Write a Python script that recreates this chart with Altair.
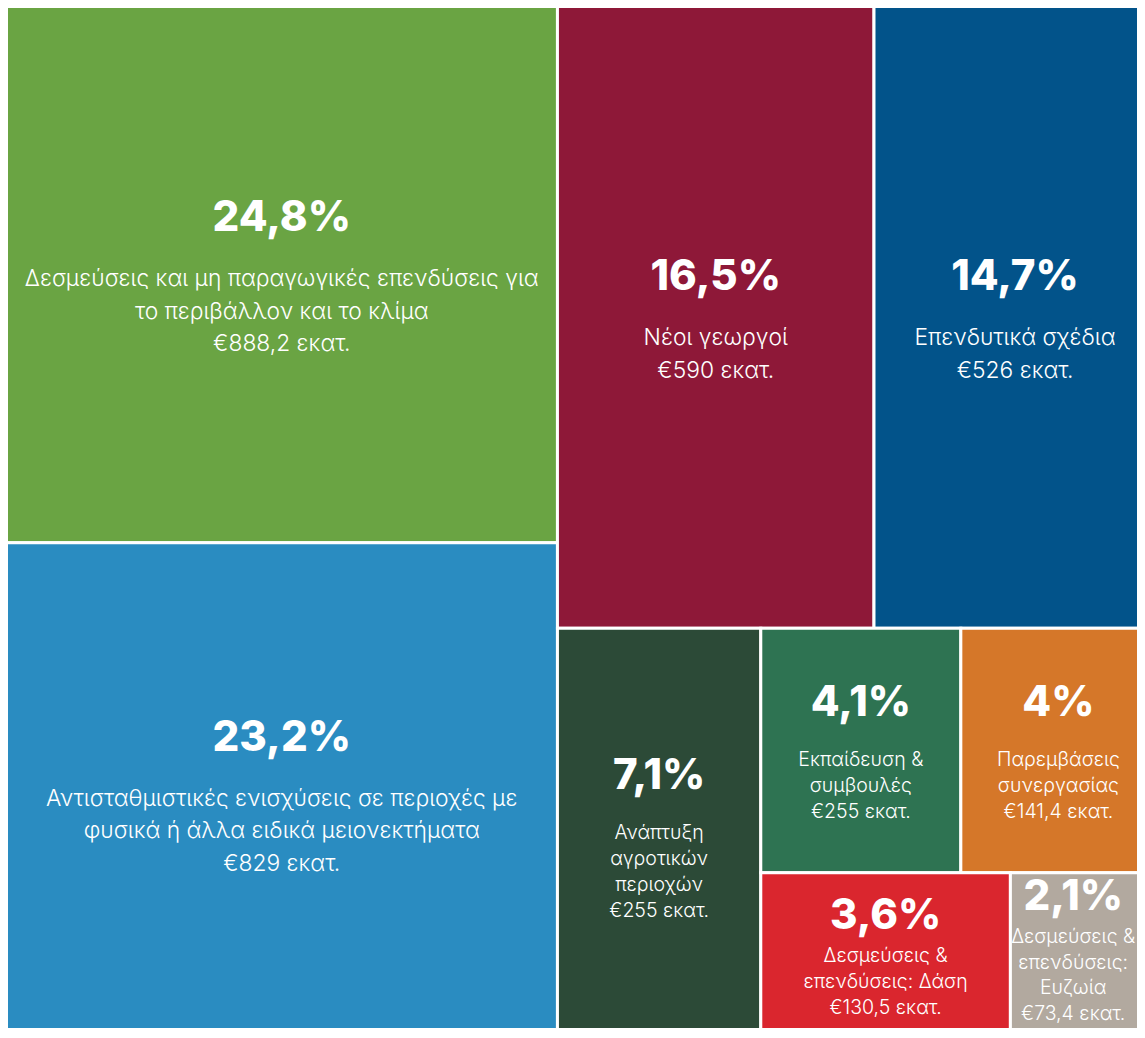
import altair as alt
import pandas as pd

# ---- data ----
keys = ["A", "B", "C", "D", "E", "F", "G", "H", "I"]
shares = [24.8, 23.2, 16.5, 14.7, 7.1, 4.1, 4.0, 3.6, 2.1]
amounts = [888.2, 829, 590, 526, 255, 255, 141.4, 130.5, 73.4]
desc_lines = [
    ["Δεσμεύσεις και μη παραγωγικές επενδύσεις για", "το περιβάλλον και το κλίμα"],
    ["Αντισταθμιστικές ενισχύσεις σε περιοχές με", "φυσικά ή άλλα ειδικά μειονεκτήματα"],
    ["Νέοι γεωργοί"],
    ["Επενδυτικά σχέδια"],
    ["Ανάπτυξη", "αγροτικών", "περιοχών"],
    ["Εκπαίδευση &", "συμβουλές"],
    ["Παρεμβάσεις", "συνεργασίας"],
    ["Δεσμεύσεις &", "επενδύσεις: Δάση"],
    ["Δεσμεύσεις &", "επενδύσεις:", "Ευζωία"],
]
colors = ["#6AA443", "#2A8CC1", "#8E1838", "#02538A", "#2C4A37",
          "#2E7352", "#D57729", "#DA262E", "#B2A99F"]

# nesting of the treemap (indices into the arrays): "row" = side by side, "col" = stacked
tree = ("row", [("col", [0, 1]),
                ("col", [("row", [2, 3]),
                         ("row", [4, ("col", [("row", [5, 6]), ("row", [7, 8])])])])])

# ---- canvas ----
PW, PH = 1129, 1020          # visible plot area (fits in the window with the page margin)
TW, TH = 1150, 1039          # full treemap (cropped by the plot edge, like the reference)
OX, OY = -2, -2              # treemap origin in plot coordinates


def weight(node):
    if isinstance(node, int):
        return shares[node]
    return sum(weight(k) for k in node[1])


def lay(node, x0, y0, x1, y1, out):
    if isinstance(node, int):
        out[node] = (x0, y0, x1, y1)
        return
    orient, kids = node
    tot = sum(weight(k) for k in kids)
    pos = x0 if orient == "row" else y0
    for k in kids:
        f = weight(k) / tot
        if orient == "row":
            nx = pos + (x1 - x0) * f
            lay(k, pos, y0, nx, y1, out)
            pos = nx
        else:
            ny = pos + (y1 - y0) * f
            lay(k, x0, pos, x1, ny, out)
            pos = ny


rects = {}
lay(tree, OX, OY, OX + TW, OY + TH, rects)


def fmt_num(v):
    return f"{v:g}".replace(".", ",")


cell_rows, pct_rows, lab_rows = [], [], []
for i, k in enumerate(keys):
    x0, y0, x1, y1 = rects[i]
    cell_rows.append(dict(key=k, x=x0, x2=x1, y=y0, y2=y1))
    w, h = x1 - x0, y1 - y0
    big = w > 250
    fs = 22.8 if big else 19.5
    lines = desc_lines[i] + [f"€{fmt_num(amounts[i])} εκατ."]
    lh = 32.5 if big else 25.8
    gap = 61 if big else (57 if h > 200 else 40)
    off = 7 if h > 200 else 3
    span = gap + (len(lines) - 1) * lh
    cx = (x0 + x1) / 2
    cy = (y0 + y1) / 2 + off
    py = cy - span / 2
    # keep the text block inside the visible area
    half_w = max(len(t) for t in lines) * fs * 0.52 / 2
    if cx + half_w > PW - 3:
        cx = PW - 3 - half_w
    bottom = py + span + fs * 0.55
    if bottom > PH - 3:
        py -= bottom - (PH - 3)
    pct_rows.append(dict(x=cx, y=py, text=fmt_num(shares[i]) + "%"))
    for j, t in enumerate(lines):
        lab_rows.append(dict(x=cx, y=py + gap + j * lh, text=t, size=fs))

cells = pd.DataFrame(cell_rows)
pcts = pd.DataFrame(pct_rows)
labs = pd.DataFrame(lab_rows)

xs = alt.Scale(domain=[0, PW], nice=False, zero=False)
ys = alt.Scale(domain=[0, PH], nice=False, zero=False, reverse=True)

rect = alt.Chart(cells).mark_rect(stroke="white", strokeWidth=3, clip=True).encode(
    x=alt.X("x:Q", scale=xs, axis=None),
    x2="x2:Q",
    y=alt.Y("y:Q", scale=ys, axis=None),
    y2="y2:Q",
    color=alt.Color("key:N", scale=alt.Scale(domain=keys, range=colors), legend=None),
)

pct = alt.Chart(pcts).mark_text(
    font="Inter", fontWeight=800, fontSize=42, color="white",
    align="center", baseline="middle", clip=True,
).encode(
    x=alt.X("x:Q", scale=xs, axis=None),
    y=alt.Y("y:Q", scale=ys, axis=None),
    text="text:N",
)

lab = alt.Chart(labs).mark_text(
    font="Inter", fontWeight=300, color="white",
    align="center", baseline="middle", clip=True,
).encode(
    x=alt.X("x:Q", scale=xs, axis=None),
    y=alt.Y("y:Q", scale=ys, axis=None),
    text="text:N",
    size=alt.Size("size:Q", scale=None, legend=None),
)

chart = alt.layer(rect, pct, lab).properties(
    width=PW, height=PH, padding=0,
    autosize=alt.AutoSizeParams(type="none"),
).configure_view(strokeWidth=0)

chart.save("out.html", embed_options={"renderer": "svg", "actions": False})
